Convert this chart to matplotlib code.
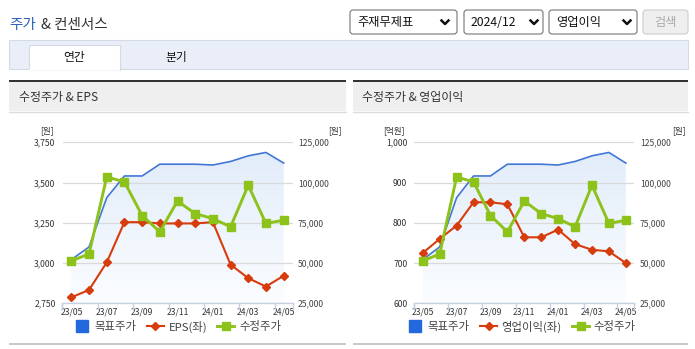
import numpy as np
import matplotlib.pyplot as plt
from matplotlib.patches import Rectangle, FancyBboxPatch
from matplotlib.lines import Line2D
from matplotlib.colors import LinearSegmentedColormap

plt.rcParams['font.family'] = ['Noto Sans CJK KR', 'DejaVu Sans']

W, H = 695, 349

months = ['23/05', '23/06', '23/07', '23/08', '23/09', '23/10', '23/11',
          '23/12', '24/01', '24/02', '24/03', '24/04', '24/05']
target_price = [52100, 60000, 90600, 104100, 104100, 111400, 111400,
                111400, 110900, 113100, 116600, 118700, 112100]
adj_price = [51400, 55600, 103500, 100400, 79500, 69400, 88500,
             80700, 77600, 72500, 98300, 74600, 76600]
eps = [2787, 2833, 3004, 3254, 3254, 3246, 3246,
       3246, 3254, 2990, 2906, 2854, 2921]
op_income = [725, 760, 793, 851, 851, 846, 764,
             764, 783, 747, 733, 729, 700]

price_ticks = [25000, 50000, 75000, 100000, 125000]
eps_ticks = [2750, 3000, 3250, 3500, 3750]
op_ticks = [600, 700, 800, 900, 1000]

BLUE = '#4277d6'
RED = '#d63c0c'
GREEN = '#8cc21a'
AXIS = '#c3d1e2'

fig = plt.figure(figsize=(W / 100, H / 100), dpi=100)
bg = fig.add_axes([0, 0, 1, 1])
bg.set_xlim(0, W)
bg.set_ylim(H, 0)
bg.axis('off')


def px_axes(x0, y0, x1, y1):
    return fig.add_axes([x0 / W, 1 - y1 / H, (x1 - x0) / W, (y1 - y0) / H])


# page header
bg.text(9, 25, '주가', color='#2d5fc0', fontsize=10.5, va='center')
bg.text(41, 25, '& 컨센서스', color='#333333', fontsize=10.5, va='center')

for x0, x1, label, chev in [(350, 457, '주재무제표', 445), (464, 543, '2024/12', 534),
                            (549, 637, '영업이익', 627)]:
    bg.add_patch(FancyBboxPatch((x0, 10), x1 - x0, 24,
                                boxstyle='round,pad=0,rounding_size=3',
                                fc='white', ec='#767676', lw=0.8))
    bg.text(x0 + 7, 22.5, label, fontsize=8.8, va='center', color='#111111')
    bg.plot([chev - 3.5, chev, chev + 3.5], [20.5, 24, 20.5], color='#111111', lw=1.8)
bg.add_patch(FancyBboxPatch((643, 10), 45, 24, boxstyle='round,pad=0,rounding_size=3',
                            fc='#efefef', ec='#cccccc', lw=0.8))
bg.text(665.5, 22.5, '검색', fontsize=8.8, va='center', ha='center', color='#a8a8a8')

# tab bar
bg.add_patch(Rectangle((9, 40), 679, 29, fc='#e9eef8', ec='#d3dbe6', lw=0.8))
bg.add_patch(Rectangle((29, 45), 91, 25, fc='white', ec='#d3dbe6', lw=0.8))
bg.plot([29.6, 119.4], [69.5, 69.5], color='white', lw=1.2)
bg.text(74.5, 57.5, '연간', fontsize=8.5, ha='center', va='center', color='#111111')
bg.text(176, 57.5, '분기', fontsize=8.5, ha='center', va='center', color='#111111')

# panel frames
for x0, x1, title in [(9, 345.5, '수정주가 & EPS'), (352.5, 688, '수정주가 & 영업이익')]:
    bg.add_patch(Rectangle((x0, 80), x1 - x0, 2.3, fc='#333333', ec='none'))
    bg.add_patch(Rectangle((x0, 82.3), x1 - x0, 29, fc='#efefef', ec='none'))
    bg.plot([x0, x1], [111.6, 111.6], color='#dcdcdc', lw=1)
    bg.add_patch(Rectangle((x0, 343), x1 - x0, 2.2, fc='#c9c9c9', ec='none'))
    bg.text(x0 + 10, 97, title, fontsize=8.6, va='center', color='#333333')

fade = LinearSegmentedColormap.from_list('fade', ['#fbfdff', '#e0ebf9'])


def draw_chart(x0, x1, left_vals, left_ticks, left_name, left_unit, unit_x, legend_cx):
    x = np.arange(len(months))
    ax = px_axes(x0, 142.3, x1, 303.3)

    # target price area with vertical gradient
    poly = ax.fill_between(x, target_price, price_ticks[0], facecolor='none', edgecolor='none')
    grad = np.linspace(1, 0, 256).reshape(-1, 1)
    im = ax.imshow(grad, extent=[x[0], x[-1], price_ticks[0], price_ticks[-1]],
                   origin='upper', aspect='auto', cmap=fade, zorder=1)
    im.set_clip_path(poly.get_paths()[0], transform=ax.transData)
    ax.plot(x, target_price, color=BLUE, lw=1.2, zorder=3)

    ax.set_xlim(-0.5, len(months) - 0.5)
    ax.set_ylim(price_ticks[0], price_ticks[-1])
    ax.set_axisbelow('line')
    ax.yaxis.grid(True, color='#d9d9d9', lw=0.9)
    ax.set_facecolor('none')
    for s in ['top', 'left', 'right']:
        ax.spines[s].set_visible(False)
    ax.spines['bottom'].set_color(AXIS)
    ax.spines['bottom'].set_linewidth(1)

    ax.set_xticks(x[::2], months[::2])
    ax.set_xticks(np.arange(-0.5, len(months), 2).tolist() + [-0.5, len(months) - 0.5], minor=True)
    ax.tick_params(axis='x', which='major', length=0, pad=3, labelsize=6.2, labelcolor='#333333')
    ax.tick_params(axis='x', which='minor', length=5, width=1, color=AXIS)

    # left-scale series
    ax_l = ax.twinx()
    ax_l.set_ylim(left_ticks[0], left_ticks[-1])
    ax_l.plot(x, left_vals, color=RED, lw=1.5, marker='D', markersize=3.8, zorder=3)
    ax_l.set_yticks(left_ticks, [f'{v:,}' for v in left_ticks])
    ax_l.yaxis.tick_left()
    ax_l.tick_params(axis='y', length=0, pad=5, labelsize=6.2, labelcolor='#333333')
    for s in ax_l.spines.values():
        s.set_visible(False)

    # adjusted price on top
    ax_t = ax.twinx()
    ax_t.set_ylim(price_ticks[0], price_ticks[-1])
    ax_t.plot(x, adj_price, color=GREEN, lw=2.1, marker='s', markersize=5.6, zorder=3)
    ax_t.axis('off')

    # price scale on the right (after twinx, which resets tick sides)
    ax.set_yticks(price_ticks, [f'{v:,}' for v in price_ticks])
    ax.yaxis.tick_right()
    ax.tick_params(axis='y', length=0, pad=4, labelsize=6.2, labelcolor='#444444')

    bg.text(unit_x[0], 131, left_unit, fontsize=6.2, ha='right', va='center', color='#333333')
    bg.text(unit_x[1], 131, '[원]', fontsize=6.2, ha='right', va='center', color='#333333')

    handles = [Line2D([], [], marker='s', color='#2368dc', ls='none', markersize=8.5),
               Line2D([], [], marker='D', color=RED, lw=1.5, markersize=3.8),
               Line2D([], [], marker='s', color=GREEN, lw=2.1, markersize=5.6)]
    fig.legend(handles, ['목표주가', left_name, '수정주가'], loc='center',
               bbox_to_anchor=(legend_cx / W, 1 - 326.5 / H), ncol=3, frameon=False,
               fontsize=8.2, handlelength=1.5, handletextpad=0.4, columnspacing=0.9,
               labelcolor='#444444')


draw_chart(62.5, 292.5, eps, eps_ticks, 'EPS(좌)', '[원]', (54, 342), 177)
draw_chart(414.3, 634.3, op_income, op_ticks, '영업이익(좌)', '[억원]', (405, 686), 521)

fig.savefig('out.png', dpi=100)
